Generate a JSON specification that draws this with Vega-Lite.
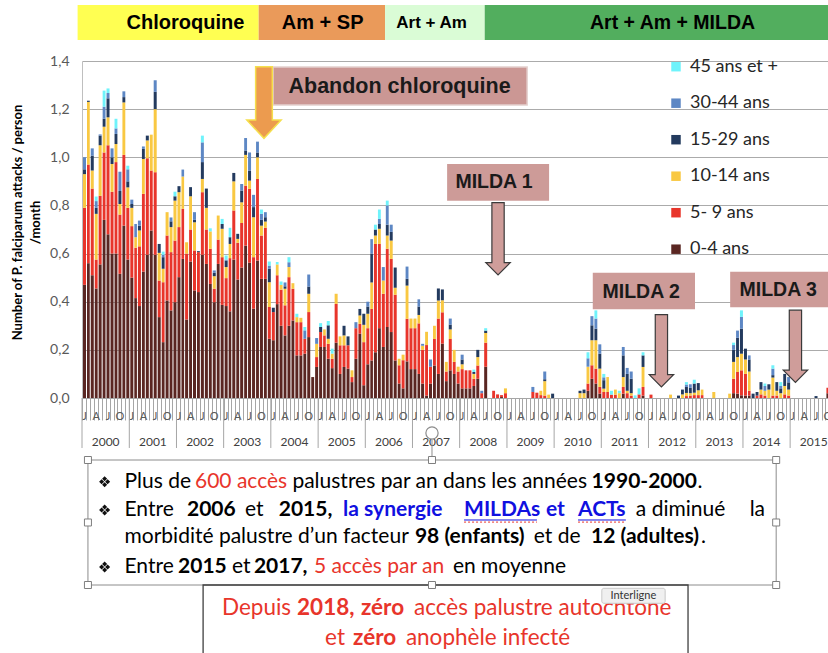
{
"$schema":"https://vega.github.io/schema/vega-lite/v6.json",
"autosize":{"type":"none"},
"padding":{"left":82,"top":61,"right":0,"bottom":255},
"width":746,"height":337,
"background":"white",
"config":{"view":{"stroke":null},"font":"Lato"},
"data":{"values":[{}]},
"layer":[
{"data":{"values":[
{"m":"2000-01","a":0.47,"b":0.32,"c":0.14,"d":0.02,"e":0.05},
{"m":"2000-02","a":0.56,"b":0.41,"c":0.26,"d":0.005},
{"m":"2000-03","a":0.51,"b":0.36,"c":0.075,"d":0.062,"e":0.03},
{"m":"2000-04","a":0.455,"b":0.12,"c":0.19,"d":0.025,"e":0.028,"f":0.019},
{"m":"2000-05","a":0.555,"b":0.285,"c":0.21,"d":0.04,"e":0.005},
{"m":"2000-06","a":0.74,"b":0.28,"c":0.107,"d":0.033,"e":0.05,"f":0.067},
{"m":"2000-07","a":0.68,"b":0.37,"c":0.116,"d":0.079,"e":0.022,"f":0.019},
{"m":"2000-08","a":0.6,"b":0.257,"c":0.115,"d":0.028,"e":0.037},
{"m":"2000-09","a":0.6,"b":0.38,"c":0.075,"d":0.042,"e":0.023,"f":0.04},
{"m":"2000-10","a":0.516,"b":0.246,"c":0.044,"d":0.054,"e":0.08},
{"m":"2000-11","a":0.716,"b":0.294,"c":0.218,"d":0.022,"e":0.024},
{"m":"2000-12","a":0.575,"b":0.215,"c":0.085,"d":0.025,"e":0.05,"f":0.015},
{"m":"2001-01","a":0.5,"b":0.214,"c":0.076,"d":0.016,"e":0.018},
{"m":"2001-02","a":0.415,"b":0.209,"c":0.044,"e":0.055},
{"m":"2001-03","a":0.382,"b":0.248,"c":0.066,"d":0.02,"e":0.021},
{"m":"2001-04","a":0.525,"b":0.323,"c":0.145,"d":0.042,"e":0.01},
{"m":"2001-05","a":0.595,"b":0.401,"c":0.074,"d":0.02},
{"m":"2001-06","a":0.696,"b":0.249,"c":0.149},
{"m":"2001-07","a":0.595,"b":0.343,"c":0.262,"d":0.072,"e":0.048},
{"m":"2001-08","a":0.336,"b":0.152,"c":0.115,"d":0.037},
{"m":"2001-09","a":0.232,"b":0.249,"c":0.056,"d":0.048,"e":0.01,"f":0.013},
{"m":"2001-10","a":0.405,"b":0.27,"c":0.097},
{"m":"2001-11","a":0.364,"b":0.242,"c":0.104,"d":0.024,"e":0.016},
{"m":"2001-12","a":0.398,"b":0.256,"c":0.166,"d":0.018,"f":0.019},
{"m":"2002-01","a":0.502,"b":0.208,"c":0.145,"d":0.025},
{"m":"2002-02","a":0.578,"b":0.208,"c":0.134,"e":0.029},
{"m":"2002-03","a":0.326,"b":0.274,"c":0.047},
{"m":"2002-04","a":0.567,"b":0.133,"c":0.138,"d":0.038},
{"m":"2002-05","a":0.447,"b":0.166,"c":0.117,"d":0.01,"e":0.032},
{"m":"2002-06","a":0.44,"b":0.166,"d":0.004},
{"m":"2002-07","a":0.595,"b":0.26,"c":0.055,"d":0.07,"e":0.082,"f":0.028},
{"m":"2002-08","a":0.557,"b":0.143,"c":0.09,"d":0.08},
{"m":"2002-09","a":0.474,"b":0.146,"c":0.072,"f":0.013},
{"m":"2002-10","a":0.398,"b":0.056,"c":0.052,"d":0.014,"e":0.01},
{"m":"2002-11","a":0.557,"b":0.101,"c":0.1},
{"m":"2002-12","a":0.387,"b":0.198,"c":0.118,"d":0.02,"f":0.021},
{"m":"2003-01","a":0.382,"b":0.116,"c":0.046,"d":0.027,"e":0.004,"f":0.017},
{"m":"2003-02","a":0.36,"b":0.221,"c":0.059,"d":0.028,"f":0.039},
{"m":"2003-03","a":0.575,"b":0.204,"c":0.121,"d":0.035},
{"m":"2003-04","a":0.492,"b":0.153,"c":0.016,"d":0.021},
{"m":"2003-05","a":0.542,"b":0.185,"c":0.086,"d":0.049,"e":0.027},
{"m":"2003-06","a":0.633,"b":0.249,"c":0.128,"d":0.018,"e":0.052},
{"m":"2003-07","a":0.562,"b":0.307,"c":0.034,"d":0.042,"e":0.075},
{"m":"2003-08","a":0.371,"b":0.214,"c":0.166,"d":0.042,"e":0.051},
{"m":"2003-09","a":0.571,"b":0.339,"c":0.09,"d":0.02,"e":0.045},
{"m":"2003-10","a":0.495,"b":0.18,"c":0.041,"d":0.024,"e":0.025,"f":0.018},
{"m":"2003-11","a":0.495,"b":0.212,"c":0.026,"d":0.018,"e":0.021},
{"m":"2003-12","a":0.246,"b":0.132,"c":0.103,"d":0.056,"e":0.013,"f":0.017},
{"m":"2004-01","a":0.24,"b":0.117,"d":0.018},
{"m":"2004-02","a":0.39,"b":0.12,"c":0.045,"f":0.01},
{"m":"2004-03","a":0.3,"b":0.15,"c":0.02,"f":0.014},
{"m":"2004-04","a":0.26,"b":0.125,"c":0.069,"d":0.01,"e":0.016},
{"m":"2004-05","a":0.3,"b":0.202,"c":0.042,"e":0.02,"f":0.021},
{"m":"2004-06","a":0.322,"b":0.132,"c":0.023},
{"m":"2004-07","a":0.177,"b":0.138,"c":0.021,"f":0.014},
{"m":"2004-08","a":0.177,"b":0.138,"c":0.018},
{"m":"2004-09","a":0.184,"b":0.062,"e":0.035,"f":0.014},
{"m":"2004-10","a":0.253,"b":0.104,"c":0.076,"d":0.03,"e":0.05},
{"m":"2004-11","a":0.087},
{"m":"2004-12","a":0.129,"b":0.041,"c":0.055,"e":0.024},
{"m":"2005-01","a":0.212,"b":0.062,"d":0.021,"f":0.016},
{"m":"2005-02","a":0.212,"b":0.048,"c":0.025},
{"m":"2005-03","a":0.163,"b":0.062,"c":0.021,"d":0.056,"f":0.018},
{"m":"2005-04","a":0.124,"b":0.039,"c":0.021,"f":0.021},
{"m":"2005-05","a":0.23,"b":0.161,"c":0.042},
{"m":"2005-06","a":0.1,"b":0.119,"c":0.037},
{"m":"2005-07","a":0.129,"b":0.09,"c":0.041,"d":0.04},
{"m":"2005-08","a":0.122,"b":0.097,"d":0.037},
{"m":"2005-09","a":0.066,"b":0.021,"c":0.028},
{"m":"2005-10","a":0.163,"b":0.127,"e":0.025},
{"m":"2005-11","a":0.267,"b":0.041,"c":0.035,"d":0.027},
{"m":"2005-12","a":0.053,"b":0.179,"c":0.072,"d":0.046},
{"m":"2006-01","a":0.14,"b":0.15,"c":0.06,"d":0.03,"e":0.02},
{"m":"2006-02","a":0.156,"b":0.214,"c":0.11,"d":0.12,"e":0.06},
{"m":"2006-03","a":0.19,"b":0.45,"c":0.035,"d":0.025,"f":0.02},
{"m":"2006-04","a":0.29,"b":0.35,"c":0.063,"d":0.02,"e":0.021,"f":0.039},
{"m":"2006-05","a":0.212,"b":0.221,"c":0.055,"e":0.056},
{"m":"2006-06","a":0.295,"b":0.325,"c":0.055,"d":0.045,"e":0.08,"f":0.02},
{"m":"2006-07","a":0.274,"b":0.304,"c":0.076,"d":0.036,"e":0.03},
{"m":"2006-08","a":0.156,"b":0.273,"c":0.029,"d":0.084},
{"m":"2006-09","a":0.06,"b":0.076,"c":0.027},
{"m":"2006-10","a":0.04,"b":0.117,"c":0.023},
{"m":"2006-11","a":0.152,"b":0.177,"c":0.138,"d":0.028,"e":0.051},
{"m":"2006-12","a":0.12,"b":0.17,"c":0.04},
{"m":"2007-01","a":0.12,"b":0.17,"c":0.04},
{"m":"2007-02","a":0.1,"b":0.21,"c":0.035,"d":0.035,"e":0.03},
{"m":"2007-03","a":0.06,"b":0.14,"c":0.017,"e":0.008},
{"m":"2007-04","a":0.01,"b":0.21,"c":0.055},
{"m":"2007-05","a":0.06,"b":0.07,"e":0.03},
{"m":"2007-06","a":0.135,"b":0.11,"c":0.055},
{"m":"2007-07","a":0.1,"b":0.23,"c":0.075,"d":0.05},
{"m":"2007-08","a":0.226,"b":0.13,"c":0.05,"d":0.045},
{"m":"2007-09","a":0.07,"b":0.04,"c":0.04},
{"m":"2007-10","a":0.115,"b":0.13,"c":0.04,"d":0.02,"e":0.025},
{"m":"2007-11","a":0.1,"b":0.05,"c":0.05},
{"m":"2007-12","a":0.06,"b":0.05,"c":0.02},
{"m":"2008-01","a":0.04,"b":0.08,"c":0.02,"d":0.02,"e":0.02},
{"m":"2008-02","a":0.04,"b":0.075},
{"m":"2008-03","a":0.04,"b":0.075},
{"m":"2008-04","a":0.05,"b":0.03,"c":0.02,"d":0.008,"f":0.01},
{"m":"2008-05","a":0.08,"b":0.055,"c":0.035,"d":0.03},
{"m":"2008-06","b":0.02,"e":0.01},
{"m":"2008-07","a":0.13,"b":0.1,"c":0.04,"d":0.01,"f":0.01},
{"m":"2008-09","b":0.03},
{"m":"2008-10","b":0.015},
{"m":"2008-11","a":0.004,"b":0.008},
{"m":"2008-12","b":0.02,"c":0.02},
{"m":"2009-07","b":0.025,"e":0.021},
{"m":"2009-08","b":0.022},
{"m":"2009-09","b":0.012,"c":0.018},
{"m":"2009-10","b":0.01,"c":0.06,"d":0.008,"e":0.032},
{"m":"2009-11","c":0.014},
{"m":"2009-12","d":0.018},
{"m":"2010-07","c":0.02,"d":0.01},
{"m":"2010-08","c":0.02,"d":0.015},
{"m":"2010-09","a":0.03,"b":0.03,"c":0.07,"e":0.035,"f":0.025},
{"m":"2010-10","a":0.08,"b":0.056,"c":0.104,"d":0.062,"e":0.038},
{"m":"2010-11","a":0.06,"b":0.062,"c":0.118,"d":0.048,"e":0.042,"f":0.034},
{"m":"2010-12","a":0.018,"b":0.028,"c":0.076,"d":0.062,"e":0.039},
{"m":"2011-01","b":0.025,"c":0.014,"d":0.035,"e":0.012,"f":0.014},
{"m":"2011-02","b":0.025,"c":0.062},
{"m":"2011-03","b":0.014,"f":0.016},
{"m":"2011-04","b":0.014,"c":0.021},
{"m":"2011-05","c":0.02,"f":0.01},
{"m":"2011-06","a":0.018,"b":0.028,"c":0.041,"d":0.09,"e":0.035},
{"m":"2011-07","b":0.02,"c":0.01,"d":0.07,"e":0.025},
{"m":"2011-08","b":0.01,"c":0.01,"d":0.06,"e":0.03},
{"m":"2011-09","f":0.011},
{"m":"2011-10","b":0.015,"f":0.025},
{"m":"2011-11","a":0.01,"b":0.036,"c":0.083,"d":0.048,"f":0.013},
{"m":"2012-01","b":0.014},
{"m":"2012-06","c":0.014},
{"m":"2012-08","d":0.01},
{"m":"2012-09","c":0.015,"d":0.02},
{"m":"2012-10","b":0.008,"c":0.013,"d":0.025,"e":0.01,"f":0.01},
{"m":"2012-11","b":0.01,"c":0.01,"d":0.022,"e":0.015},
{"m":"2012-12","b":0.012,"c":0.01,"d":0.038,"f":0.016},
{"m":"2013-01","b":0.012,"c":0.02,"d":0.03},
{"m":"2013-02","b":0.012,"c":0.023},
{"m":"2013-05","c":0.025},
{"m":"2013-09","c":0.018},
{"m":"2013-10","a":0.02,"b":0.06,"c":0.07,"d":0.05,"e":0.02,"f":0.01},
{"m":"2013-11","a":0.018,"b":0.09,"c":0.062,"d":0.08,"e":0.03},
{"m":"2013-12","a":0.011,"b":0.104,"c":0.069,"d":0.104,"e":0.049,"f":0.027},
{"m":"2014-01","a":0.01,"b":0.09,"c":0.06,"d":0.045},
{"m":"2014-02","a":0.01,"b":0.02,"c":0.08,"d":0.05,"e":0.017},
{"m":"2014-03","d":0.018},
{"m":"2014-04","b":0.01,"d":0.015},
{"m":"2014-05","b":0.015,"c":0.02,"d":0.031},
{"m":"2014-06","b":0.01,"c":0.02,"e":0.02,"f":0.01},
{"m":"2014-07","c":0.035,"d":0.022},
{"m":"2014-08","b":0.01,"c":0.075,"d":0.01,"e":0.027,"f":0.014},
{"m":"2014-09","b":0.01,"c":0.02,"d":0.036},
{"m":"2014-10","c":0.02,"d":0.02,"e":0.01,"f":0.016},
{"m":"2014-11","b":0.015,"c":0.035,"d":0.05},
{"m":"2014-12","b":0.01,"c":0.025,"d":0.03,"e":0.022},
{"m":"2015-07","d":0.008},
{"m":"2015-10","a":0.02,"b":0.023}
]},
"transform":[
{"fold":["a","b","c","d","e","f"],"as":["k","v"]},
{"filter":"datum.v > 0"},
{"lookup":"k","from":{"data":{"values":[{"k":"a","age":"0-4 ans","o":0},{"k":"b","age":"5- 9 ans","o":1},{"k":"c","age":"10-14 ans","o":2},{"k":"d","age":"15-29 ans","o":3},{"k":"e","age":"30-44 ans","o":4},{"k":"f","age":"45 ans et +","o":5}]},"key":"k","fields":["age","o"]}}
],
"mark":{"type":"bar"},
"encoding":{
"x":{"field":"m","timeUnit":"utcyearmonth","type":"temporal","title":null,
"scale":{"type":"utc","domain":[{"year":2000,"month":1,"date":1,"utc":true},{"year":2015,"month":10,"date":21,"utc":true}]},
"axis":{"tickCount":{"interval":"month","step":1},"labelExpr":"utcmonth(datum.value) % 3 == 0 ? substring('JFMAMJJASOND', utcmonth(datum.value), utcmonth(datum.value) + 1) : ''","labelOffset":2,"labelPadding":-10,"tickSize":22,"tickColor":"#A6A6A6","domainColor":"#A6A6A6","labelFont":"Lato","labelFontSize":11,"labelColor":"#595959","grid":false,"labelOverlap":false,"labelFlush":false,"labelBound":false,"title":null}},
"y":{"field":"v","type":"quantitative","stack":"zero","scale":{"domain":[0,1.4],"nice":false},
"axis":{"values":[0,0.2,0.4,0.6,0.8,1,1.2,1.4],"labelExpr":"replace(format(datum.value, '.1f'), '.', ',')","grid":true,"gridColor":"#ABABAB","gridWidth":1.2,"ticks":false,"domain":true,"domainColor":"#BFBFBF","labelPadding":13,"labelFont":"Lato","labelFontSize":14,"labelColor":"#595959",
"title":["Number of P. falciparum attacks / person","/month"],"titleFont":"Lato","titleFontWeight":"bold","titleFontSize":13,"titleColor":"#000000","titleAngle":-90,"titleX":-65,"titleY":161,"titleAlign":"center","titleBaseline":"middle","titleLineHeight":18.5}},
"color":{"field":"age","type":"nominal","scale":{"domain":["45 ans et +","30-44 ans","15-29 ans","10-14 ans","5- 9 ans","0-4 ans"],"range":["#6FF3FB","#5D87C4","#233A5E","#F9C842","#E8352B","#5A2622"]},
"legend":{"orient":"none","legendX":585,"legendY":-3.3,"title":null,"symbolType":"square","symbolSize":90,"symbolStrokeWidth":0,"labelFont":"Lato","labelFontSize":18,"labelColor":"#262626","rowPadding":18.5,"labelOffset":5,"padding":0,"labelLimit":200}},
"order":{"field":"o","type":"quantitative","sort":"ascending"}
}},
{"data":{"values":[{"year":"2000"},{"year":"2001"},{"year":"2002"},{"year":"2003"},{"year":"2004"},{"year":"2005"},{"year":"2006"},{"year":"2007"},{"year":"2008"},{"year":"2009"},{"year":"2010"},{"year":"2011"},{"year":"2012"},{"year":"2013"},{"year":"2014"},{"year":"2015"}]},
"layer":[
{"mark":{"type":"rule","color":"#A6A6A6","strokeWidth":1},"encoding":{"x":{"field":"year","timeUnit":"utcyear","type":"temporal","title":null},"y":{"datum":0},"y2":{"datum":-0.2077}}},
{"mark":{"type":"text","font":"Lato","fontSize":12,"color":"#404040","baseline":"middle","align":"center"},"encoding":{"x":{"field":"year","timeUnit":"utcyear","type":"temporal","bandPosition":0.5,"title":null},"y":{"datum":-0.183},"text":{"field":"year","timeUnit":"utcyear","type":"temporal"}}}
]},
{"data":{"values":[{"phase":"Chloroquine","start":"1999-11-28","end":"2003-09-29"},{"phase":"Am + SP","start":"2003-09-29","end":"2006-06-03"},{"phase":"Art + Am","start":"2006-06-03","end":"2008-07-13"},{"phase":"Art + Am + MILDA","start":"2008-07-13","end":"2016-01-01"}]},
"mark":{"type":"rect"},
"encoding":{"x":{"field":"start","type":"temporal","title":null},"x2":{"field":"end"},"y":{"datum":1.6327},"y2":{"datum":1.4873},
"fill":{"field":"phase","type":"nominal","scale":{"domain":["Chloroquine","Am + SP","Art + Am","Art + Am + MILDA"],"range":["#FFFF52","#EA9A5A","#DAFCD6","#52AE5E"]},"legend":null}}},
{"mark":{"type":"text","text":"Chloroquine","font":"Liberation Sans","fontWeight":"bold","fontSize":20,"color":"#000000","align":"center","baseline":"middle"},"encoding":{"x":{"datum":{"year":2002,"month":3,"date":11},"type":"temporal"},"y":{"datum":1.558}}},
{"mark":{"type":"text","text":"Am + SP","font":"Liberation Sans","fontWeight":"bold","fontSize":20,"color":"#000000","align":"center","baseline":"middle"},"encoding":{"x":{"datum":{"year":2005,"month":2,"date":5},"type":"temporal"},"y":{"datum":1.558}}},
{"mark":{"type":"text","text":"Art + Am","font":"Liberation Sans","fontWeight":"bold","fontSize":17,"color":"#000000","align":"center","baseline":"middle"},"encoding":{"x":{"datum":{"year":2007,"month":5,"date":29},"type":"temporal"},"y":{"datum":1.558}}},
{"mark":{"type":"text","text":"Art + Am + MILDA","font":"Liberation Sans","fontWeight":"bold","fontSize":19.5,"color":"#000000","align":"center","baseline":"middle"},"encoding":{"x":{"datum":{"year":2012,"month":7,"date":5},"type":"temporal"},"y":{"datum":1.558}}},
{"mark":{"type":"rect","fill":"#CB9794","stroke":"#E3CFCD","strokeWidth":1.5},"encoding":{"x":{"datum":{"year":2004,"month":1,"date":18},"type":"temporal"},"x2":{"datum":{"year":2009,"month":6,"date":6}},"y":{"datum":1.3751},"y2":{"datum":1.2172}}},
{"mark":{"type":"text","text":"Abandon chloroquine","font":"Liberation Sans","fontWeight":"bold","fontSize":21.5,"color":"#1A1A1A","align":"center","baseline":"middle"},"encoding":{"x":{"datum":{"year":2006,"month":9,"date":23},"type":"temporal"},"y":{"datum":1.292}}},
{"mark":{"type":"point","shape":"M-0.233,-1L0.233,-1L0.233,0.489L0.479,0.489L0,1L-0.479,0.489L-0.233,0.489Z","filled":true,"fill":"#EC9B4F","stroke":"#F5DF4D","strokeWidth":1.5,"size":5126,"opacity":1},"encoding":{"x":{"datum":{"year":2003,"month":11,"date":9},"type":"temporal"},"y":{"datum":1.2276}}},
{"mark":{"type":"rect","fill":"#CD9B98"},"encoding":{"x":{"datum":{"year":2007,"month":9,"date":26},"type":"temporal"},"x2":{"datum":{"year":2009,"month":11,"date":23}},"y":{"datum":0.9721},"y2":{"datum":0.8197}}},
{"mark":{"type":"text","text":"MILDA 1","font":"Liberation Sans","fontWeight":"bold","fontSize":19.5,"color":"#1A1A1A","align":"center","baseline":"middle"},"encoding":{"x":{"datum":{"year":2008,"month":9,"date":23},"type":"temporal"},"y":{"datum":0.8973}}},
{"mark":{"type":"point","shape":"M-0.17,-1L0.17,-1L0.17,0.66L0.3375,0.66L0,1L-0.3375,0.66L-0.17,0.66Z","filled":true,"fill":"#CF9D9A","stroke":"#3A3A3A","strokeWidth":1.2,"size":5227,"opacity":1},"encoding":{"x":{"datum":{"year":2008,"month":10,"date":24},"type":"temporal"},"y":{"datum":0.6612}}},
{"mark":{"type":"rect","fill":"#CD9B98"},"encoding":{"x":{"datum":{"year":2010,"month":10,"date":27},"type":"temporal"},"x2":{"datum":{"year":2012,"month":12,"date":26}},"y":{"datum":0.5205},"y2":{"datum":0.3685}}},
{"mark":{"type":"text","text":"MILDA 2","font":"Liberation Sans","fontWeight":"bold","fontSize":19.5,"color":"#1A1A1A","align":"center","baseline":"middle"},"encoding":{"x":{"datum":{"year":2011,"month":11,"date":5},"type":"temporal"},"y":{"datum":0.4416}}},
{"mark":{"type":"point","shape":"M-0.17,-1L0.17,-1L0.17,0.66L0.3375,0.66L0,1L-0.3375,0.66L-0.17,0.66Z","filled":true,"fill":"#CF9D9A","stroke":"#3A3A3A","strokeWidth":1.2,"size":5227,"opacity":1},"encoding":{"x":{"datum":{"year":2012,"month":4,"date":10},"type":"temporal"},"y":{"datum":0.1961}}},
{"mark":{"type":"rect","fill":"#CD9B98"},"encoding":{"x":{"datum":{"year":2013,"month":9,"date":24},"type":"temporal"},"x2":{"datum":{"year":2016,"month":1,"date":1}},"y":{"datum":0.5247},"y2":{"datum":0.3768}}},
{"mark":{"type":"text","text":"MILDA 3","font":"Liberation Sans","fontWeight":"bold","fontSize":19.5,"color":"#1A1A1A","align":"center","baseline":"middle"},"encoding":{"x":{"datum":{"year":2014,"month":9,"date":30},"type":"temporal"},"y":{"datum":0.4487}}},
{"mark":{"type":"point","shape":"M-0.17,-1L0.17,-1L0.17,0.66L0.3375,0.66L0,1L-0.3375,0.66L-0.17,0.66Z","filled":true,"fill":"#CF9D9A","stroke":"#3A3A3A","strokeWidth":1.2,"size":5227,"opacity":1},"encoding":{"x":{"datum":{"year":2015,"month":2,"date":11},"type":"temporal"},"y":{"datum":0.2148}}},
{"mark":{"type":"rect","fill":"white","fillOpacity":0,"stroke":"#8C8C8C","strokeWidth":1},"encoding":{"x":{"datum":{"year":2000,"month":2,"date":16},"type":"temporal"},"x2":{"datum":{"year":2014,"month":9,"date":15}},"y":{"datum":-0.2576},"y2":{"datum":-0.7769}}},
{"mark":{"type":"rect","fill":"white","fillOpacity":0,"stroke":"#404040","strokeWidth":1.3},"encoding":{"x":{"datum":{"year":2002,"month":7,"date":26},"type":"temporal"},"x2":{"datum":{"year":2012,"month":11,"date":2}},"y":{"datum":-0.7769},"y2":{"datum":-1.0926}}},
{"mark":{"type":"rule","color":"#8C8C8C","strokeWidth":1},"encoding":{"x":{"datum":{"year":2007,"month":6,"date":1},"type":"temporal"},"y":{"datum":-0.1745},"y2":{"datum":-0.2576}}},
{"mark":{"type":"point","shape":"circle","filled":true,"fill":"white","stroke":"#8C8C8C","strokeWidth":1.2,"size":150,"opacity":1},"encoding":{"x":{"datum":{"year":2007,"month":6,"date":1},"type":"temporal"},"y":{"datum":-0.1454}}},
{"mark":{"type":"point","shape":"square","filled":true,"fill":"white","stroke":"#7F7F7F","strokeWidth":1,"size":49,"opacity":1},"encoding":{"x":{"datum":{"year":2000,"month":2,"date":16},"type":"temporal"},"y":{"datum":-0.2576}}},
{"mark":{"type":"point","shape":"square","filled":true,"fill":"white","stroke":"#7F7F7F","strokeWidth":1,"size":49,"opacity":1},"encoding":{"x":{"datum":{"year":2007,"month":6,"date":1},"type":"temporal"},"y":{"datum":-0.2576}}},
{"mark":{"type":"point","shape":"square","filled":true,"fill":"white","stroke":"#7F7F7F","strokeWidth":1,"size":49,"opacity":1},"encoding":{"x":{"datum":{"year":2014,"month":9,"date":15},"type":"temporal"},"y":{"datum":-0.2576}}},
{"mark":{"type":"point","shape":"square","filled":true,"fill":"white","stroke":"#7F7F7F","strokeWidth":1,"size":49,"opacity":1},"encoding":{"x":{"datum":{"year":2000,"month":2,"date":16},"type":"temporal"},"y":{"datum":-0.5172}}},
{"mark":{"type":"point","shape":"square","filled":true,"fill":"white","stroke":"#7F7F7F","strokeWidth":1,"size":49,"opacity":1},"encoding":{"x":{"datum":{"year":2014,"month":9,"date":15},"type":"temporal"},"y":{"datum":-0.5172}}},
{"mark":{"type":"point","shape":"square","filled":true,"fill":"white","stroke":"#7F7F7F","strokeWidth":1,"size":49,"opacity":1},"encoding":{"x":{"datum":{"year":2000,"month":2,"date":16},"type":"temporal"},"y":{"datum":-0.7769}}},
{"mark":{"type":"point","shape":"square","filled":true,"fill":"white","stroke":"#7F7F7F","strokeWidth":1,"size":49,"opacity":1},"encoding":{"x":{"datum":{"year":2007,"month":6,"date":1},"type":"temporal"},"y":{"datum":-0.7769}}},
{"mark":{"type":"point","shape":"square","filled":true,"fill":"white","stroke":"#7F7F7F","strokeWidth":1,"size":49,"opacity":1},"encoding":{"x":{"datum":{"year":2014,"month":9,"date":15},"type":"temporal"},"y":{"datum":-0.7769}}},
{"mark":{"type":"point","shape":"M0,-0.92L0.42,-0.5L0,-0.08L-0.42,-0.5Z M0.92,0L0.5,0.42L0.08,0L0.5,-0.42Z M0,0.92L-0.42,0.5L0,0.08L0.42,0.5Z M-0.92,0L-0.5,-0.42L-0.08,0L-0.5,0.42Z","filled":true,"fill":"#111111","strokeWidth":0,"size":144,"opacity":1},"encoding":{"x":{"datum":{"year":2000,"month":6,"date":24},"type":"temporal"},"y":{"datum":-0.3477}}},
{"mark":{"type":"point","shape":"M0,-0.92L0.42,-0.5L0,-0.08L-0.42,-0.5Z M0.92,0L0.5,0.42L0.08,0L0.5,-0.42Z M0,0.92L-0.42,0.5L0,0.08L0.42,0.5Z M-0.92,0L-0.5,-0.42L-0.08,0L-0.5,0.42Z","filled":true,"fill":"#111111","strokeWidth":0,"size":144,"opacity":1},"encoding":{"x":{"datum":{"year":2000,"month":6,"date":24},"type":"temporal"},"y":{"datum":-0.4653}}},
{"mark":{"type":"point","shape":"M0,-0.92L0.42,-0.5L0,-0.08L-0.42,-0.5Z M0.92,0L0.5,0.42L0.08,0L0.5,-0.42Z M0,0.92L-0.42,0.5L0,0.08L0.42,0.5Z M-0.92,0L-0.5,-0.42L-0.08,0L-0.5,0.42Z","filled":true,"fill":"#111111","strokeWidth":0,"size":144,"opacity":1},"encoding":{"x":{"datum":{"year":2000,"month":6,"date":24},"type":"temporal"},"y":{"datum":-0.7021}}},
{"mark":{"type":"text","text":"Plus de","font":"Lato","fontSize":21,"color":"#000000","align":"left","baseline":"middle"},"encoding":{"x":{"datum":{"year":2000,"month":11,"date":25},"type":"temporal"},"y":{"datum":-0.3477}}},
{"mark":{"type":"text","text":"600 accès","font":"Lato","fontSize":21,"color":"#E8352B","align":"left","baseline":"middle"},"encoding":{"x":{"datum":{"year":2002,"month":5,"date":24},"type":"temporal"},"y":{"datum":-0.3477}}},
{"mark":{"type":"text","text":"palustres par an dans les années","font":"Lato","fontSize":21,"color":"#000000","align":"left","baseline":"middle"},"encoding":{"x":{"datum":{"year":2004,"month":6,"date":16},"type":"temporal"},"y":{"datum":-0.3477}}},
{"mark":{"type":"text","text":"1990-2000","font":"Lato","fontWeight":"bold","fontSize":21,"color":"#000000","align":"left","baseline":"middle"},"encoding":{"x":{"datum":{"year":2010,"month":10,"date":18},"type":"temporal"},"y":{"datum":-0.3477}}},
{"mark":{"type":"text","text":".","font":"Lato","fontSize":21,"color":"#000000","align":"left","baseline":"middle"},"encoding":{"x":{"datum":{"year":2013,"month":1,"date":14},"type":"temporal"},"y":{"datum":-0.3477}}},
{"mark":{"type":"text","text":"Entre","font":"Lato","fontSize":21,"color":"#000000","align":"left","baseline":"middle"},"encoding":{"x":{"datum":{"year":2000,"month":11,"date":25},"type":"temporal"},"y":{"datum":-0.4653}}},
{"mark":{"type":"text","text":"2006","font":"Lato","fontWeight":"bold","fontSize":21,"color":"#000000","align":"left","baseline":"middle"},"encoding":{"x":{"datum":{"year":2002,"month":3,"date":23},"type":"temporal"},"y":{"datum":-0.4653}}},
{"mark":{"type":"text","text":"et","font":"Lato","fontSize":21,"color":"#000000","align":"left","baseline":"middle"},"encoding":{"x":{"datum":{"year":2003,"month":6,"date":15},"type":"temporal"},"y":{"datum":-0.4653}}},
{"mark":{"type":"text","text":"2015,","font":"Lato","fontWeight":"bold","fontSize":21,"color":"#000000","align":"left","baseline":"middle"},"encoding":{"x":{"datum":{"year":2004,"month":3,"date":2},"type":"temporal"},"y":{"datum":-0.4653}}},
{"mark":{"type":"text","text":"la synergie","font":"Lato","fontWeight":"bold","fontSize":21,"color":"#1010E0","align":"left","baseline":"middle"},"encoding":{"x":{"datum":{"year":2005,"month":7,"date":13},"type":"temporal"},"y":{"datum":-0.4653}}},
{"mark":{"type":"text","text":"MILDAs","font":"Lato","fontWeight":"bold","fontSize":21,"color":"#1010E0","align":"left","baseline":"middle"},"encoding":{"x":{"datum":{"year":2008,"month":2,"date":4},"type":"temporal"},"y":{"datum":-0.4653}}},
{"mark":{"type":"text","text":"et","font":"Lato","fontWeight":"bold","fontSize":21,"color":"#1010E0","align":"left","baseline":"middle"},"encoding":{"x":{"datum":{"year":2009,"month":10,"date":30},"type":"temporal"},"y":{"datum":-0.4653}}},
{"mark":{"type":"text","text":"ACTs","font":"Lato","fontWeight":"bold","fontSize":21,"color":"#1010E0","align":"left","baseline":"middle"},"encoding":{"x":{"datum":{"year":2010,"month":7,"date":5},"type":"temporal"},"y":{"datum":-0.4653}}},
{"mark":{"type":"rule","color":"#1010E0","strokeWidth":1},"encoding":{"x":{"datum":{"year":2008,"month":2,"date":4},"type":"temporal"},"x2":{"datum":{"year":2009,"month":8,"date":21}},"y":{"datum":-0.5068}}},
{"mark":{"type":"rule","color":"#1010E0","strokeWidth":1},"encoding":{"x":{"datum":{"year":2010,"month":7,"date":5},"type":"temporal"},"x2":{"datum":{"year":2011,"month":7,"date":10}},"y":{"datum":-0.5068}}},
{"mark":{"type":"rule","color":"#E8352B","strokeWidth":1,"strokeDash":[2,2]},"encoding":{"x":{"datum":{"year":2008,"month":2,"date":4},"type":"temporal"},"x2":{"datum":{"year":2009,"month":8,"date":21}},"y":{"datum":-0.5155}}},
{"mark":{"type":"rule","color":"#E8352B","strokeWidth":1,"strokeDash":[2,2]},"encoding":{"x":{"datum":{"year":2010,"month":7,"date":5},"type":"temporal"},"x2":{"datum":{"year":2011,"month":7,"date":10}},"y":{"datum":-0.5155}}},
{"mark":{"type":"text","text":"a diminué","font":"Lato","fontSize":21,"color":"#000000","align":"left","baseline":"middle"},"encoding":{"x":{"datum":{"year":2011,"month":9,"date":25},"type":"temporal"},"y":{"datum":-0.4653}}},
{"mark":{"type":"text","text":"la","font":"Lato","fontSize":21,"color":"#000000","align":"right","baseline":"middle"},"encoding":{"x":{"datum":{"year":2014,"month":6,"date":21},"type":"temporal"},"y":{"datum":-0.4653}}},
{"mark":{"type":"text","text":"morbidité palustre d’un facteur","font":"Lato","fontSize":21,"color":"#000000","align":"left","baseline":"middle"},"encoding":{"x":{"datum":{"year":2000,"month":11,"date":25},"type":"temporal"},"y":{"datum":-0.5775}}},
{"mark":{"type":"text","text":"98 (enfants)","font":"Lato","fontWeight":"bold","fontSize":21,"color":"#000000","align":"left","baseline":"middle"},"encoding":{"x":{"datum":{"year":2007,"month":1,"date":20},"type":"temporal"},"y":{"datum":-0.5775}}},
{"mark":{"type":"text","text":"et de","font":"Lato","fontSize":21,"color":"#000000","align":"left","baseline":"middle"},"encoding":{"x":{"datum":{"year":2009,"month":7,"date":28},"type":"temporal"},"y":{"datum":-0.5775}}},
{"mark":{"type":"text","text":"12 (adultes)","font":"Lato","fontWeight":"bold","fontSize":21,"color":"#000000","align":"left","baseline":"middle"},"encoding":{"x":{"datum":{"year":2010,"month":10,"date":14},"type":"temporal"},"y":{"datum":-0.5775}}},
{"mark":{"type":"text","text":".","font":"Lato","fontSize":21,"color":"#000000","align":"left","baseline":"middle"},"encoding":{"x":{"datum":{"year":2013,"month":2,"date":11},"type":"temporal"},"y":{"datum":-0.5775}}},
{"mark":{"type":"text","text":"Entre","font":"Lato","fontSize":21,"color":"#000000","align":"left","baseline":"middle"},"encoding":{"x":{"datum":{"year":2000,"month":11,"date":25},"type":"temporal"},"y":{"datum":-0.7021}}},
{"mark":{"type":"text","text":"2015","font":"Lato","fontWeight":"bold","fontSize":21,"color":"#000000","align":"left","baseline":"middle"},"encoding":{"x":{"datum":{"year":2002,"month":1,"date":13},"type":"temporal"},"y":{"datum":-0.7021}}},
{"mark":{"type":"text","text":"et","font":"Lato","fontSize":21,"color":"#000000","align":"left","baseline":"middle"},"encoding":{"x":{"datum":{"year":2003,"month":3,"date":6},"type":"temporal"},"y":{"datum":-0.7021}}},
{"mark":{"type":"text","text":"2017,","font":"Lato","fontWeight":"bold","fontSize":21,"color":"#000000","align":"left","baseline":"middle"},"encoding":{"x":{"datum":{"year":2003,"month":8,"date":23},"type":"temporal"},"y":{"datum":-0.7021}}},
{"mark":{"type":"text","text":"5 accès par an","font":"Lato","fontSize":21,"color":"#E8352B","align":"left","baseline":"middle"},"encoding":{"x":{"datum":{"year":2004,"month":11,"date":30},"type":"temporal"},"y":{"datum":-0.7021}}},
{"mark":{"type":"text","text":"en moyenne","font":"Lato","fontSize":21,"color":"#000000","align":"left","baseline":"middle"},"encoding":{"x":{"datum":{"year":2007,"month":11,"date":10},"type":"temporal"},"y":{"datum":-0.7021}}},
{"mark":{"type":"text","text":"Depuis","font":"Lato","fontSize":22.5,"color":"#E8352B","align":"left","baseline":"middle"},"encoding":{"x":{"datum":{"year":2002,"month":12,"date":19},"type":"temporal"},"y":{"datum":-0.8724}}},
{"mark":{"type":"text","text":"2018,","font":"Lato","fontWeight":"bold","fontSize":22.5,"color":"#E8352B","align":"left","baseline":"middle"},"encoding":{"x":{"datum":{"year":2004,"month":7,"date":22},"type":"temporal"},"y":{"datum":-0.8724}}},
{"mark":{"type":"text","text":"zéro","font":"Lato","fontWeight":"bold","fontSize":22.5,"color":"#E8352B","align":"left","baseline":"middle"},"encoding":{"x":{"datum":{"year":2005,"month":11,"date":28},"type":"temporal"},"y":{"datum":-0.8724}}},
{"mark":{"type":"text","text":"accès palustre autochtone","font":"Lato","fontSize":22.5,"color":"#E8352B","align":"left","baseline":"middle"},"encoding":{"x":{"datum":{"year":2007,"month":1,"date":13},"type":"temporal"},"y":{"datum":-0.8724}}},
{"mark":{"type":"text","text":"et","font":"Lato","fontSize":22.5,"color":"#E8352B","align":"left","baseline":"middle"},"encoding":{"x":{"datum":{"year":2005,"month":2,"date":24},"type":"temporal"},"y":{"datum":-0.997}}},
{"mark":{"type":"text","text":"zéro","font":"Lato","fontWeight":"bold","fontSize":22.5,"color":"#E8352B","align":"left","baseline":"middle"},"encoding":{"x":{"datum":{"year":2005,"month":9,"date":28},"type":"temporal"},"y":{"datum":-0.997}}},
{"mark":{"type":"text","text":"anophèle infecté","font":"Lato","fontSize":22.5,"color":"#E8352B","align":"left","baseline":"middle"},"encoding":{"x":{"datum":{"year":2006,"month":11,"date":11},"type":"temporal"},"y":{"datum":-0.997}}},
{"mark":{"type":"rect","fill":"#F0F0F0","stroke":"#C8C8C8","strokeWidth":1,"cornerRadius":2},"encoding":{"x":{"datum":{"year":2011,"month":1,"date":5},"type":"temporal"},"x2":{"datum":{"year":2012,"month":5,"date":9}},"y":{"datum":-0.7906},"y2":{"datum":-0.8529}}},
{"mark":{"type":"text","text":"Interligne","font":"Lato","fontSize":11,"color":"#333333","align":"center","baseline":"middle"},"encoding":{"x":{"datum":{"year":2011,"month":9,"date":6},"type":"temporal"},"y":{"datum":-0.8226}}}
]
}
